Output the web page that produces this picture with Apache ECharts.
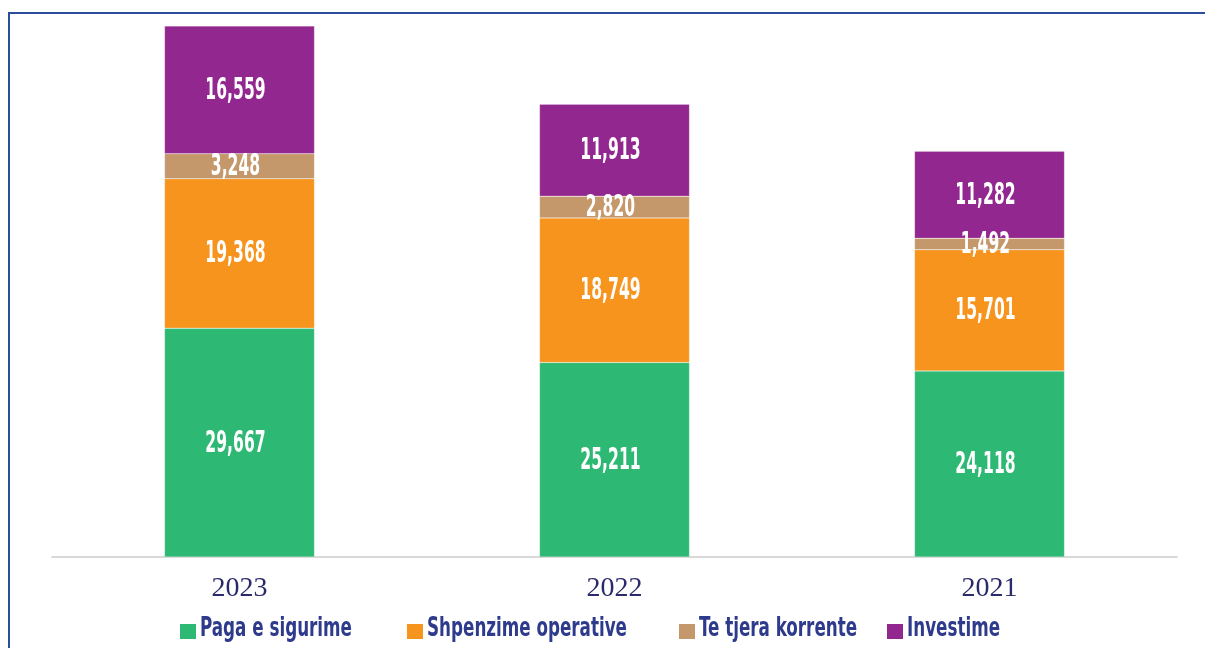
<!DOCTYPE html>
<html>
<head>
<meta charset="utf-8">
<script src="https://cdn.jsdelivr.net/npm/echarts@6/dist/echarts.min.js"></script>
<style>
    html, body { margin: 0; padding: 0; background: #fff; }
    #container { position: absolute; left: 0; top: 0; width: 1205px; height: 648px; }
    #frame { position: absolute; left: 8px; top: 12px; width: 1300px; height: 700px;
        border-left: 2px solid #2c4c9c; border-top: 2px solid #2c4c9c; pointer-events: none; }
</style>
</head>
<body>
<div id="container"></div>
<div id="frame"></div>
<script>
const years = ['2023', '2022', '2021'];
const paga = [29667, 25211, 24118];
const operative = [19368, 18749, 15701];
const tjera = [3248, 2820, 1492];
const investime = [16559, 11913, 11282];

const names = ['Paga e sigurime', 'Shpenzime operative', 'Te tjera korrente', 'Investime'];
const colors = ['#2db873', '#f7941e', '#c4986a', '#92278f'];
const values = [paga, operative, tjera, investime];

// the original uses a very narrow bold face, so text is squeezed with scaleX
const narrowFont = '"DejaVu Sans Condensed", "DejaVu Sans", sans-serif';

var dom = document.getElementById('container');
var myChart = echarts.init(dom, null, { renderer: 'canvas' });

var series = values.map(function (data, i) {
    return {
        name: names[i],
        type: 'bar',
        stack: 'total',
        barWidth: '40%',
        data: data,
        itemStyle: { color: colors[i], borderColor: 'rgba(255,255,255,0.4)', borderWidth: 0.5 }
    };
});

var option = {
    animation: false,
    grid: { left: 52, right: 28, top: 17, bottom: 91 },
    xAxis: {
        type: 'category',
        data: years,
        axisTick: { show: false },
        axisLine: { lineStyle: { color: '#d9d9d9', width: 2 } },
        axisLabel: {
            color: '#2b2a6b',
            fontFamily: '"Liberation Serif", "DejaVu Serif", serif',
            fontSize: 28,
            margin: 18
        }
    },
    yAxis: {
        type: 'value',
        min: 0,
        max: 70000,
        show: false,
        splitLine: { show: false }
    },
    series: series
};

myChart.setOption(option);

// value labels, placed through the chart's own scales
var graphics = [];
years.forEach(function (year, c) {
    var base = 0;
    values.forEach(function (data) {
        var v = data[c];
        var pt = myChart.convertToPixel({ seriesIndex: 0 }, [c, base + v / 2]);
        base += v;
        graphics.push({
            type: 'text',
            x: pt[0] - 4,
            y: pt[1] + 1,
            scaleX: 0.56,
            z: 100,
            style: {
                text: v.toLocaleString('en-US'),
                fill: '#fff',
                font: 'bold 31px ' + narrowFont,
                align: 'center',
                verticalAlign: 'middle'
            }
        });
    });
});

// legend
var legendX = [180, 407, 679, 887];
names.forEach(function (name, i) {
    graphics.push({
        type: 'rect',
        shape: { x: legendX[i], y: 624, width: 16, height: 15 },
        style: { fill: colors[i] }
    });
    graphics.push({
        type: 'text',
        x: legendX[i] + 20,
        y: 629,
        scaleX: 0.69,
        style: {
            text: name,
            fill: '#2e3a8c',
            font: 'bold 27px ' + narrowFont,
            align: 'left',
            verticalAlign: 'middle'
        }
    });
});

myChart.setOption({ graphic: graphics });
window.addEventListener('resize', myChart.resize);
</script>
</body>
</html>
